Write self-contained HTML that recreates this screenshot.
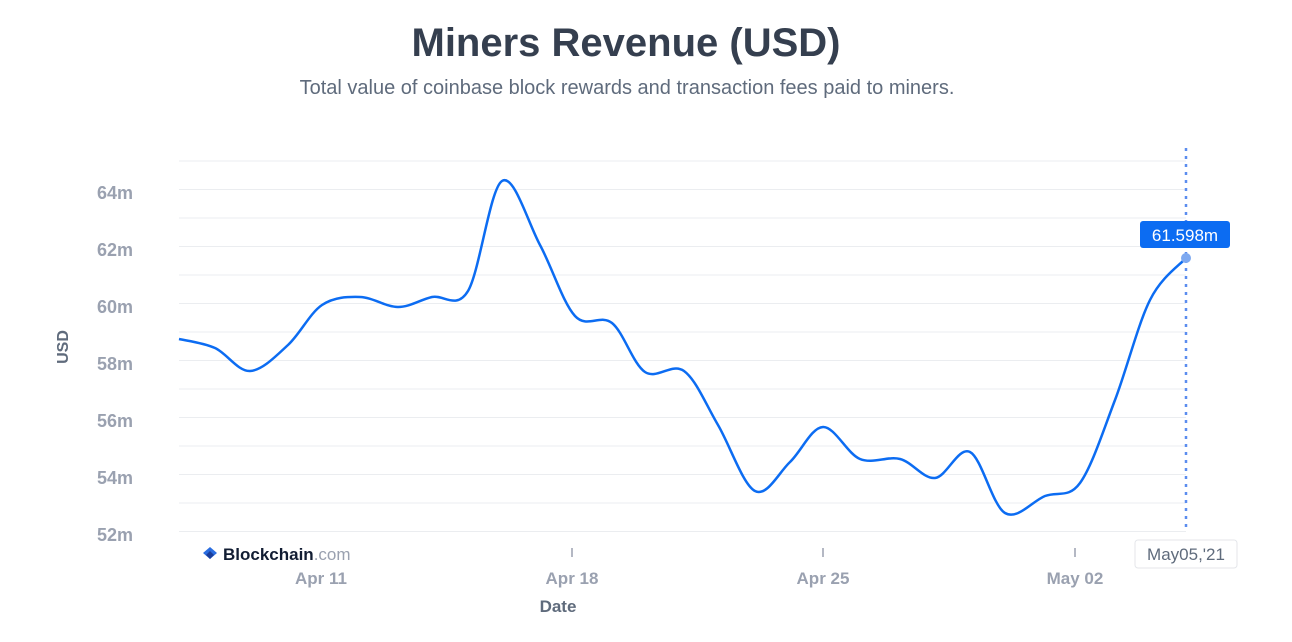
<!DOCTYPE html>
<html><head><meta charset="utf-8"><style>
html,body{margin:0;padding:0;background:#fff;width:1292px;height:642px;overflow:hidden;font-family:"Liberation Sans",sans-serif}
</style></head><body>
<svg width="1292" height="642" xmlns="http://www.w3.org/2000/svg" font-family="Liberation Sans, sans-serif">
<text x="626" y="56" text-anchor="middle" font-size="40" font-weight="bold" fill="#353f4f">Miners Revenue (USD)</text>
<text x="627" y="94" text-anchor="middle" font-size="20" fill="#5f6b7c">Total value of coinbase block rewards and transaction fees paid to miners.</text>
<g id="grid" stroke="#ebedf0" stroke-width="1"></g>
<g font-size="18" font-weight="bold" fill="#9aa1b0" text-anchor="end">
<text x="133" y="199">64m</text><text x="133" y="256">62m</text><text x="133" y="313">60m</text>
<text x="133" y="370">58m</text><text x="133" y="427">56m</text><text x="133" y="484">54m</text><text x="133" y="541">52m</text>
</g>
<text transform="translate(68,347) rotate(-90)" text-anchor="middle" font-size="16" font-weight="bold" fill="#5f6b7c">USD</text>
<g stroke="#9aa1b0" stroke-width="1.5"><line x1="572" y1="548" x2="572" y2="557"/><line x1="823" y1="548" x2="823" y2="557"/><line x1="1075" y1="548" x2="1075" y2="557"/></g>
<g font-size="17" font-weight="bold" fill="#9aa1b0" text-anchor="middle">
<text x="321" y="584">Apr 11</text><text x="572" y="584">Apr 18</text><text x="823" y="584">Apr 25</text><text x="1075" y="584">May 02</text>
</g>
<text x="558" y="612" text-anchor="middle" font-size="17" font-weight="bold" fill="#5f6b7c">Date</text>
<g transform="translate(203,547)"><path d="M7 0L14 6L7 12L0 6Z" fill="#2a6de0"/><path d="M7 4L11 8L7 12L3 8Z" fill="#1a3e9c"/></g>
<text x="223" y="560" font-size="17" font-weight="bold" fill="#121d33">Blockchain<tspan fill="#9aa1b0" font-weight="normal">.com</tspan></text>
<line x1="1186" y1="148" x2="1186" y2="530" stroke="#5b8def" stroke-width="2.5" stroke-dasharray="3,5"/>
<path id="line" fill="none" stroke="#0c6cf2" stroke-width="2.5"/>
<circle cx="1186" cy="258" r="5" fill="#7ea9f0"/>
<rect x="1140" y="221" width="90" height="27" rx="3" fill="#0c6cf2"/>
<text x="1185" y="241" text-anchor="middle" font-size="17" fill="#fff">61.598m</text>
<rect x="1135" y="540" width="102" height="28" rx="3" fill="#fff" stroke="#e4e6ea"/>
<text x="1186" y="560" text-anchor="middle" font-size="17" fill="#5f6b7c">May05,'21</text>
</svg>
<script>
var g=document.getElementById('grid'),s='';
for(var y=161;y<=532;y+=28.5)s+='<line x1="179" x2="1186" y1="'+y+'" y2="'+y+'"/>';
g.innerHTML=s;
var p=[[179,339],[215,348],[250,371],[288,345],[322,305],[360,297],[398,307],[432,297],[468,291],[502,181],[540,245],[575,316],[612,323],[645,372],[684,371],[718,425],[755,491],[790,462],[823,427],[860,459],[900,459],[935,478],[970,452],[1005,513],[1045,496],[1080,483],[1115,400],[1150,300],[1186,258]];
var d='M'+p[0][0]+' '+p[0][1];
for(var i=0;i<p.length-1;i++){var a=p[i-1]||p[i],b=p[i],c=p[i+1],e=p[i+2]||c;
d+=' C'+(b[0]+(c[0]-a[0])/6)+' '+(b[1]+(c[1]-a[1])/6)+' '+(c[0]-(e[0]-b[0])/6)+' '+(c[1]-(e[1]-b[1])/6)+' '+c[0]+' '+c[1];}
document.getElementById('line').setAttribute('d',d);
</script>
</body></html>
